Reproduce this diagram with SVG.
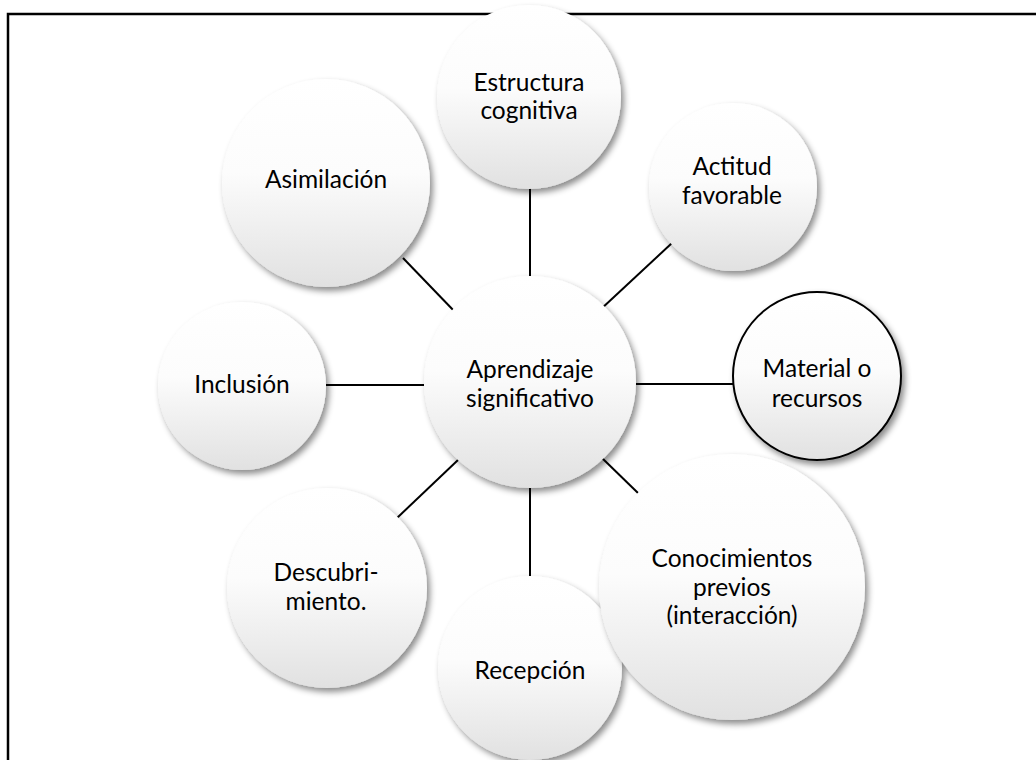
<svg xmlns="http://www.w3.org/2000/svg" width="1036" height="760" viewBox="0 0 1036 760">
<defs>
<linearGradient id="g" x1="0" y1="0" x2="0" y2="1">
<stop offset="0" stop-color="#ffffff"/>
<stop offset="0.45" stop-color="#fcfcfc"/>
<stop offset="1" stop-color="#e1e1e1"/>
</linearGradient>
<filter id="sh" x="-20%" y="-20%" width="150%" height="150%">
<feDropShadow dx="3" dy="4" stdDeviation="3" flood-color="#000" flood-opacity="0.45"/>
</filter>
<style>
.n{fill:url(#g);filter:url(#sh)}
.b{stroke:#000;stroke-width:2}
.t{font-family:Lato,"Open Sans",sans-serif;font-size:24.5px;fill:#000;text-anchor:middle}
.c line{stroke:#000;stroke-width:2}
</style>
</defs>
<rect width="1036" height="760" fill="#fff"/>
<path d="M8 760 V14 H1036" fill="none" stroke="#000" stroke-width="2.5"/>
<g id="connectors" class="c">
<line x1="530" y1="186" x2="530" y2="280"/>
<line x1="600" y1="310" x2="672" y2="243"/>
<line x1="636" y1="384" x2="734" y2="384"/>
<line x1="602" y1="458" x2="638" y2="493"/>
<line x1="530" y1="488" x2="530" y2="576"/>
<line x1="458" y1="460" x2="397" y2="518"/>
<line x1="326" y1="385" x2="424" y2="385"/>
<line x1="403" y1="258" x2="456" y2="313"/>
</g>
<g id="n-estructura"><circle class="n" cx="529" cy="97" r="92"/><text class="t" x="529" y="91">Estructura</text><text class="t" x="529" y="119">cognitiva</text></g>
<g id="n-actitud"><circle class="n" cx="733" cy="187" r="84"/><text class="t" x="732" y="175">Actitud</text><text class="t" x="732" y="204">favorable</text></g>
<g id="n-asimilacion"><circle class="n" cx="326" cy="183" r="104"/><text class="t" x="326" y="188">Asimilación</text></g>
<g id="n-inclusion"><circle class="n" cx="242" cy="386" r="84"/><text class="t" x="242" y="393">Inclusión</text></g>
<g id="n-descubrimiento"><circle class="n" cx="327" cy="588" r="100"/><text class="t" x="326" y="581">Descubri-</text><text class="t" x="326" y="610">miento.</text></g>
<g id="n-recepcion"><circle class="n" cx="530" cy="668" r="92"/><text class="t" x="530" y="679">Recepción</text></g>
<g id="n-conocimientos"><circle class="n" cx="732" cy="587" r="133"/><text class="t" x="732" y="567">Conocimientos</text><text class="t" x="732" y="596">previos</text><text class="t" x="732" y="624">(interacción)</text></g>
<g id="n-material"><circle class="n b" cx="817" cy="376" r="84"/><text class="t" x="817" y="377">Material o</text><text class="t" x="817" y="407">recursos</text></g>
<g id="n-aprendizaje"><circle class="n" cx="530" cy="382" r="106"/><text class="t" x="530" y="378">Aprendizaje</text><text class="t" x="530" y="407">significativo</text></g>
</svg>
